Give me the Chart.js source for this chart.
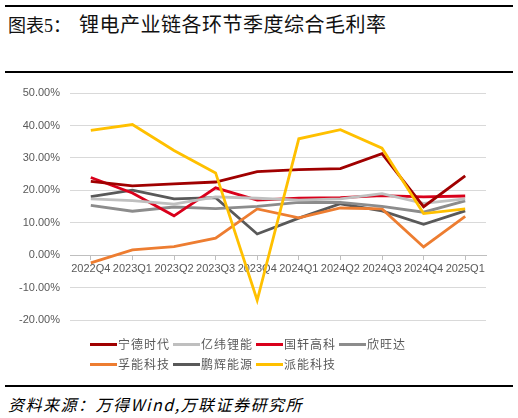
<!DOCTYPE html>
<html>
<head>
<meta charset="utf-8">
<script src="https://cdn.jsdelivr.net/npm/chart.js@4.4.1/dist/chart.umd.min.js"></script>
<style>
  body {
    margin: 0;
    width: 518px;
    height: 418px;
    background: #fff;
    position: relative;
    overflow: hidden;
    font-family: "Noto Sans CJK SC", sans-serif;
  }
  .rule { position: absolute; left: 5px; width: 508px; height: 2px; background: #000; }
  #title_a { position: absolute; left: 8px; top: 14px; font-size: 18px; line-height: 20px; color: #111; }
  #title_b { position: absolute; left: 79px; top: 14px; font-size: 20px; line-height: 20px; letter-spacing: 0.5px; color: #111; }
  #chart_box { position: absolute; left: 0; top: 74px; width: 518px; height: 263px; }
  #legend { position: absolute; left: 90px; top: 334px; display: grid; grid-template-columns: repeat(4, 83px); grid-auto-rows: 20px; }
  .item { display: flex; align-items: center; }
  .swatch { width: 27px; height: 3px; margin-right: 1px; }
  .name { font-size: 12px; letter-spacing: 1px; color: #595959; line-height: 20px; }
  #source { position: absolute; left: 8px; top: 395px; font-size: 16px; line-height: 18px; font-style: italic; letter-spacing: 1.5px; color: #000; }
</style>
</head>
<body>
<div class="rule" style="top:5px"></div>
<div id="title_a">图表<span style="font-family:'Liberation Serif'">5</span>：</div>
<div id="title_b">锂电产业链各环节季度综合毛利率</div>
<div class="rule" style="top:71px"></div>
<div id="chart_box"><canvas id="lineChart"></canvas></div>
<div id="legend"></div>
<div class="rule" style="top:385px"></div>
<div id="source">资料来源：万得Wind,万联证券研究所</div>

<script>
const quarters = ["2022Q4", "2023Q1", "2023Q2", "2023Q3", "2023Q4", "2024Q1", "2024Q2", "2024Q3", "2024Q4", "2025Q1"];

const catl = [22.8, 21.4, 22.0, 22.6, 25.8, 26.4, 26.7, 31.3, 15.0, 24.5];
const eve = [17.4, 16.9, 15.8, 18.0, 17.6, 17.0, 17.4, 19.0, 16.0, 17.4];
const gotion = [24.0, 19.2, 12.2, 20.8, 17.0, 17.6, 17.8, 18.4, 18.0, 18.3];
const sunwoda = [15.4, 13.6, 14.9, 14.4, 15.1, 16.3, 16.3, 15.1, 13.3, 16.8];
const farasis = [-2.3, 1.7, 2.7, 5.3, 14.3, 11.6, 14.6, 14.3, 2.6, 12.0];
const greatpower = [18.1, 20.1, 17.4, 17.8, 6.6, 11.5, 15.9, 13.7, 9.6, 13.7];
const pylon = [38.5, 40.3, 32.3, 25.4, -13.8, 35.9, 38.7, 33.0, 12.9, 14.3];

const series_names = ["宁德时代", "亿纬锂能", "国轩高科", "欣旺达", "孚能科技", "鹏辉能源", "派能科技"];
const series_values = [catl, eve, gotion, sunwoda, farasis, greatpower, pylon];
const series_colors = ["#a00000", "#bfbfbf", "#d9001b", "#8c8c8c", "#ed7d31", "#595959", "#ffc000"];
// yellow line sits on top of everything else
const draw_order = [0, 1, 2, 3, 4, 5, -1];

const y_ticks = [-20, -10, 0, 10, 20, 30, 40, 50];

const tick_font = { family: "Liberation Sans", size: 11 };

const makeChart = () => {
  const chart_ctx = document.getElementById("lineChart");
  const datasets = series_names.map((name, i) => ({
    label: name,
    data: series_values[i],
    borderColor: series_colors[i],
    backgroundColor: series_colors[i],
    borderWidth: 2.8,
    pointRadius: 0,
    tension: 0,
    fill: false,
    order: draw_order[i],
  }));

  const config = {
    type: "line",
    data: { labels: quarters, datasets },
    options: {
      responsive: true,
      maintainAspectRatio: false,
      animation: false,
      layout: { padding: { top: 19, right: 32, bottom: 11, left: 0 } },
      plugins: {
        legend: { display: false },
        tooltip: { enabled: false },
      },
      scales: {
        x: {
          position: { y: 0 },
          offset: true,
          grid: { drawOnChartArea: false, drawTicks: true, tickLength: 4, color: "#bfbfbf" },
          border: { color: "#bfbfbf" },
          ticks: { color: "#595959", font: tick_font, padding: 3, maxRotation: 0, autoSkip: false },
        },
        y: {
          min: y_ticks[0],
          max: y_ticks[y_ticks.length - 1],
          afterBuildTicks: (scale) => {
            scale.ticks = y_ticks.map((v) => ({ value: v }));
          },
          afterFit: (scale) => {
            scale.width = 70;
          },
          grid: { color: "#d9d9d9", drawTicks: false },
          border: { display: false },
          ticks: {
            color: "#595959",
            font: tick_font,
            padding: 10,
            callback: (v) => v.toFixed(2) + "%",
          },
        },
      },
    },
  };
  return new Chart(chart_ctx, config);
};

const makeLegend = (chart) => {
  const box = document.getElementById("legend");
  chart.data.datasets.forEach((ds) => {
    const item = document.createElement("div");
    item.className = "item";
    const swatch = document.createElement("span");
    swatch.className = "swatch";
    swatch.style.background = ds.borderColor;
    const name = document.createElement("span");
    name.className = "name";
    name.textContent = ds.label;
    item.appendChild(swatch);
    item.appendChild(name);
    box.appendChild(item);
  });
};

const chart = makeChart();
makeLegend(chart);
</script>
</body>
</html>
